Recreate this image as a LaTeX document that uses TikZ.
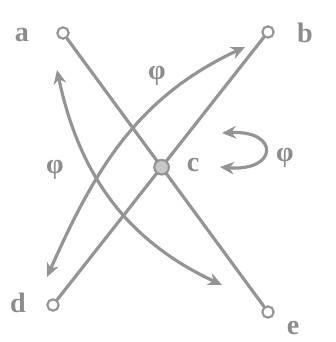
\documentclass[tikz,border=0pt]{standalone}
\usepackage{amsmath,amssymb}
\usepackage{fontspec}
\newfontfamily\typefont{Liberation Serif}
\usepackage{tikz}
\usetikzlibrary{arrows.meta,positioning,calc}

\begin{document}
\begin{tikzpicture}[x=0.3mm,y=0.3mm,
  ink/.style={draw=black!42,line width=2.7pt,line cap=round},
  ring/.style={circle,draw=black!42,line width=1.8pt,fill=white,minimum size=3.4mm,inner sep=0pt},
  hub/.style={circle,draw=black!42,line width=1.8pt,fill=black!22,minimum size=4.4mm,inner sep=0pt},
  lbl/.style={text=black!45,font=\fontsize{24}{24}\selectfont\typefont\bfseries},
  twohead/.style={{Stealth[length=4.2mm,width=3.8mm]}-{Stealth[length=4.2mm,width=3.8mm]}}]
  \useasboundingbox (0,0) rectangle (335,342);
  % end points
  \node[ring] (a) at (63,309) {};
  \node[ring] (b) at (268,310) {};
  \node[ring] (d) at (53,37) {};
  \node[ring] (e) at (268,30) {};
  \node[lbl] (la) at (22,307) {a};
  \node[lbl] (lb) at (305,309) {b};
  \node[lbl] (ld) at (18,39) {d};
  \node[lbl] (le) at (293,14) {e};
  % crossing rods
  \draw[ink] (a) -- (e);
  \draw[ink] (d) -- (b);
  \node[hub] (c) at (161.6,174.8) {};
  \node[lbl] (lc) at (193,177) {c};
  % rotations
  \coordinate (p1) at (47,65);  \coordinate (q1) at (245,295);
  \coordinate (p2) at (57,272); \coordinate (q2) at (222,57);
  \coordinate (p3) at (222,209); \coordinate (q3) at (220,175);
  \draw[ink,twohead] (p1) to[out=66,in=205] (q1);
  \draw[ink,twohead] (p2) to[out=-78,in=155] (q2);
  \draw[ink,twohead] (p3) .. controls (280,212) and (278,170) .. (q3);
  \node[lbl] (f1) at (157,266) {φ};
  \node[lbl] (f2) at (55,172) {φ};
  \node[lbl] (f3) at (285,184) {φ};
\end{tikzpicture}
\end{document}
